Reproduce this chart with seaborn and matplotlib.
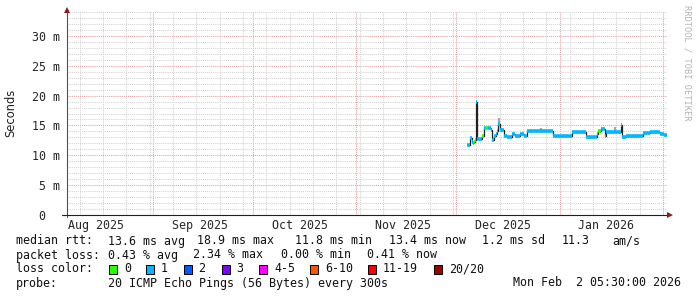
import numpy as np
import pandas as pd
import matplotlib
matplotlib.use("Agg")
import matplotlib.pyplot as plt
import matplotlib.dates as mdates
from matplotlib.lines import Line2D
from matplotlib.patches import Rectangle
from matplotlib.ticker import MultipleLocator
import seaborn as sns

# ─────────────────────────────────────────────
# DATA
# ─────────────────────────────────────────────
W, H = 697, 297
START = "2025-08-06 05:30"
END = "2026-02-02 05:30"

# median rtt, one step per sample start (ms) + lost pings out of 20
sample_times = [
    "2025-12-04 09:00", "2025-12-05 03:00", "2025-12-05 17:30", "2025-12-06 00:00",
    "2025-12-06 04:30", "2025-12-06 13:00", "2025-12-06 22:00", "2025-12-07 05:30",
    "2025-12-08 17:30", "2025-12-09 04:30", "2025-12-09 15:00", "2025-12-10 13:00",
    "2025-12-11 10:00", "2025-12-11 17:30", "2025-12-12 08:00", "2025-12-12 19:00",
    "2025-12-13 05:30", "2025-12-13 16:00", "2025-12-13 23:30", "2025-12-15 08:00",
    "2025-12-16 05:30", "2025-12-17 17:30", "2025-12-18 15:00", "2025-12-20 03:00",
    "2025-12-21 08:00", "2025-12-22 05:30", "2025-12-30 00:30", "2026-01-04 21:00",
    "2026-01-08 22:00", "2026-01-12 05:30", "2026-01-12 12:45", "2026-01-13 10:00",
    "2026-01-14 15:00", "2026-01-14 22:00", "2026-01-19 10:00", "2026-01-19 17:30",
    "2026-01-20 22:00", "2026-01-26 00:30", "2026-01-26 22:00", "2026-01-28 03:00",
    "2026-01-31 03:00", "2026-02-01 08:00",
]
median_ms = [
    11.8, 12.9, 12.2, 12.0,
    12.3, 12.5, 18.9, 12.7,
    13.3, 14.6, 14.6, 14.6,
    14.3, 12.6, 13.2, 13.6,
    14.0, 15.3, 14.3, 13.3,
    13.1, 13.6, 13.2, 13.6,
    13.3, 14.1, 13.3, 13.9,
    13.1, 13.6, 14.0, 14.4,
    13.3, 13.9, 15.0, 13.1,
    13.2, 13.8, 13.7, 13.9,
    13.5, 13.4,
]
loss_count = [
    1, 1, 1, 1,
    0, 0, 1, 1,
    0, 1, 0, 1,
    1, 1, 1, 1,
    1, 1, 1, 1,
    1, 1, 1, 1,
    1, 1, 1, 1,
    1, 1, 0, 1,
    1, 1, 1, 1,
    1, 1, 1, 1,
    1, 1,
]

# a few visible bits of smoke
smoke_times = ["2025-12-13 17:00", "2025-12-26 08:00", "2026-01-17 18:30"]
smoke_lo = [15.3, 14.2, 13.9]
smoke_hi = [16.3, 14.5, 14.7]

loss_labels = ["0", "1", "2", "3", "4-5", "6-10", "11-19", "20/20"]
loss_colors = ["#26ff00", "#00b8ff", "#0059ff", "#7e00ff",
               "#ff00ff", "#ff5500", "#ff0000", "#a10000"]

month_labels = ["Aug 2025", "Sep 2025", "Oct 2025", "Nov 2025", "Dec 2025", "Jan 2026"]
month_mid = ["2025-08-15", "2025-09-15", "2025-10-15", "2025-11-15", "2025-12-15", "2026-01-15"]

ytick_vals = [0, 5, 10, 15, 20, 25, 30]
ytick_text = ["0  ", "5 m", "10 m", "15 m", "20 m", "25 m", "30 m"]

legend_rows = [
    [(16, "median rtt:"), (108, "13.6 ms avg"), (197, "18.9 ms max"), (295, "11.8 ms min"),
     (389, "13.4 ms now"), (482, "1.2 ms sd"), (562, "11.3"), (612, "am/s")],
    [(16, "packet loss:"), (108, "0.43 % avg"), (193, "2.34 % max"), (281, "0.00 % min"),
     (367, "0.41 % now")],
    [(16, "loss color:")],
    [(16, "probe:"), (108, "20 ICMP Echo Pings (56 Bytes) every 300s"),
     (513, "Mon Feb  2 05:30:00 2026")],
]
box_x = [109, 146, 184, 222, 259, 310, 368, 434]
box_label_x = [124, 161, 198, 236, 274, 325, 383, 449]
row_y = [241, 255, 269, 283]
# ─────────────────────────────────────────────

sns.set_style("white")
plt.rcParams["font.family"] = ["DejaVu Sans Mono"]
FS = 8.4


def fx(x):
    return x / W


def fy(y):
    return 1 - y / H


def loss_bucket(n):
    if n <= 3:
        return n
    if n <= 5:
        return 4
    if n <= 10:
        return 5
    if n <= 19:
        return 6
    return 7


fig = plt.figure(figsize=(W / 100, H / 100), dpi=100)
fig.patch.set_facecolor("white")
ax = fig.add_axes([fx(67), fy(215), 600 / W, 203 / H])

t = pd.to_datetime(sample_times + [END])
df = pd.DataFrame({"time": t, "ms": median_ms + [median_ms[-1]]})

# smoke
ax.vlines(pd.to_datetime(smoke_times).to_numpy(), smoke_lo, smoke_hi,
          colors="#a8a8a8", lw=1.6, zorder=2)

# thin dark median line
sns.lineplot(data=df, x="time", y="ms", drawstyle="steps-post", color="#202020",
             lw=0.9, estimator=None, sort=False, ax=ax, zorder=3)

# thick loss-coloured median segments
seg_colors = [loss_colors[loss_bucket(n)] for n in loss_count]
ax.hlines(median_ms, t[:-1].to_numpy(), t[1:].to_numpy(), colors=seg_colors,
          lw=2.6, capstyle="butt", zorder=4)

ax.set_xlim(pd.Timestamp(START), pd.Timestamp(END))
ax.set_ylim(0, 34)
ax.set_xlabel("")
ax.set_ylabel("")

# grid
ax.xaxis.set_major_locator(mdates.MonthLocator())
ax.xaxis.set_minor_locator(mdates.WeekdayLocator(byweekday=mdates.SU))
ax.xaxis.set_major_formatter(plt.NullFormatter())
ax.yaxis.set_minor_locator(MultipleLocator(1))
ax.set_yticks(ytick_vals, ytick_text)
ax.grid(which="minor", color="#d2d2d2", lw=0.75, ls=(0, (1, 1)), zorder=0)
ax.grid(which="major", color="#e6a0a0", lw=0.75, ls=(0, (1, 1)), zorder=1)
ax.tick_params(axis="y", which="major", length=3.6, width=0.7, color="#606060",
               pad=1.4, labelsize=FS)
ax.tick_params(axis="x", which="major", length=2.2, width=0.7, color="#404040", direction="out")
ax.tick_params(which="minor", length=0)
for s in ax.spines.values():
    s.set_visible(False)

for d, lab in zip(month_mid, month_labels):
    ax.text(pd.Timestamp(d), -0.022, lab, transform=ax.get_xaxis_transform(),
            ha="center", va="top", fontsize=FS)

# axes with arrows
fig.add_artist(Line2D([fx(67), fx(67)], [fy(217), fy(10)], color="#505050", lw=0.8))
fig.add_artist(Line2D([fx(62), fx(668)], [fy(215), fy(215)], color="#202020", lw=0.8))
fig.add_artist(Line2D([fx(67)], [fy(9.5)], marker="^", ms=4.2, color="#8b1a1a", mew=0))
fig.add_artist(Line2D([fx(669.5)], [fy(215)], marker=">", ms=4.2, color="#8b1a1a", mew=0))

fig.text(fx(11), fy(113), "Seconds", rotation=90, ha="center", va="center",
         fontsize=8.3, family="DejaVu Sans", color="#202020")
fig.text(fx(687), fy(5), "RRDTOOL / TOBI OETIKER", rotation=-90, ha="center", va="top",
         fontsize=6.2, color="#b4b4b4")

# legend block
for y, row in zip(row_y, legend_rows):
    for x, s in row:
        fig.text(fx(x), fy(y), s, ha="left", va="center", fontsize=FS, color="#101010")
for bx, lx, lab, col in zip(box_x, box_label_x, loss_labels, loss_colors):
    fig.add_artist(Rectangle((fx(bx), fy(273.5)), 8 / W, 9 / H, facecolor=col,
                             edgecolor="black", lw=0.7, transform=fig.transFigure))
    fig.text(fx(lx), fy(269), lab, ha="left", va="center", fontsize=FS, color="#101010")

fig.savefig("out.png", dpi=100, facecolor="white")
